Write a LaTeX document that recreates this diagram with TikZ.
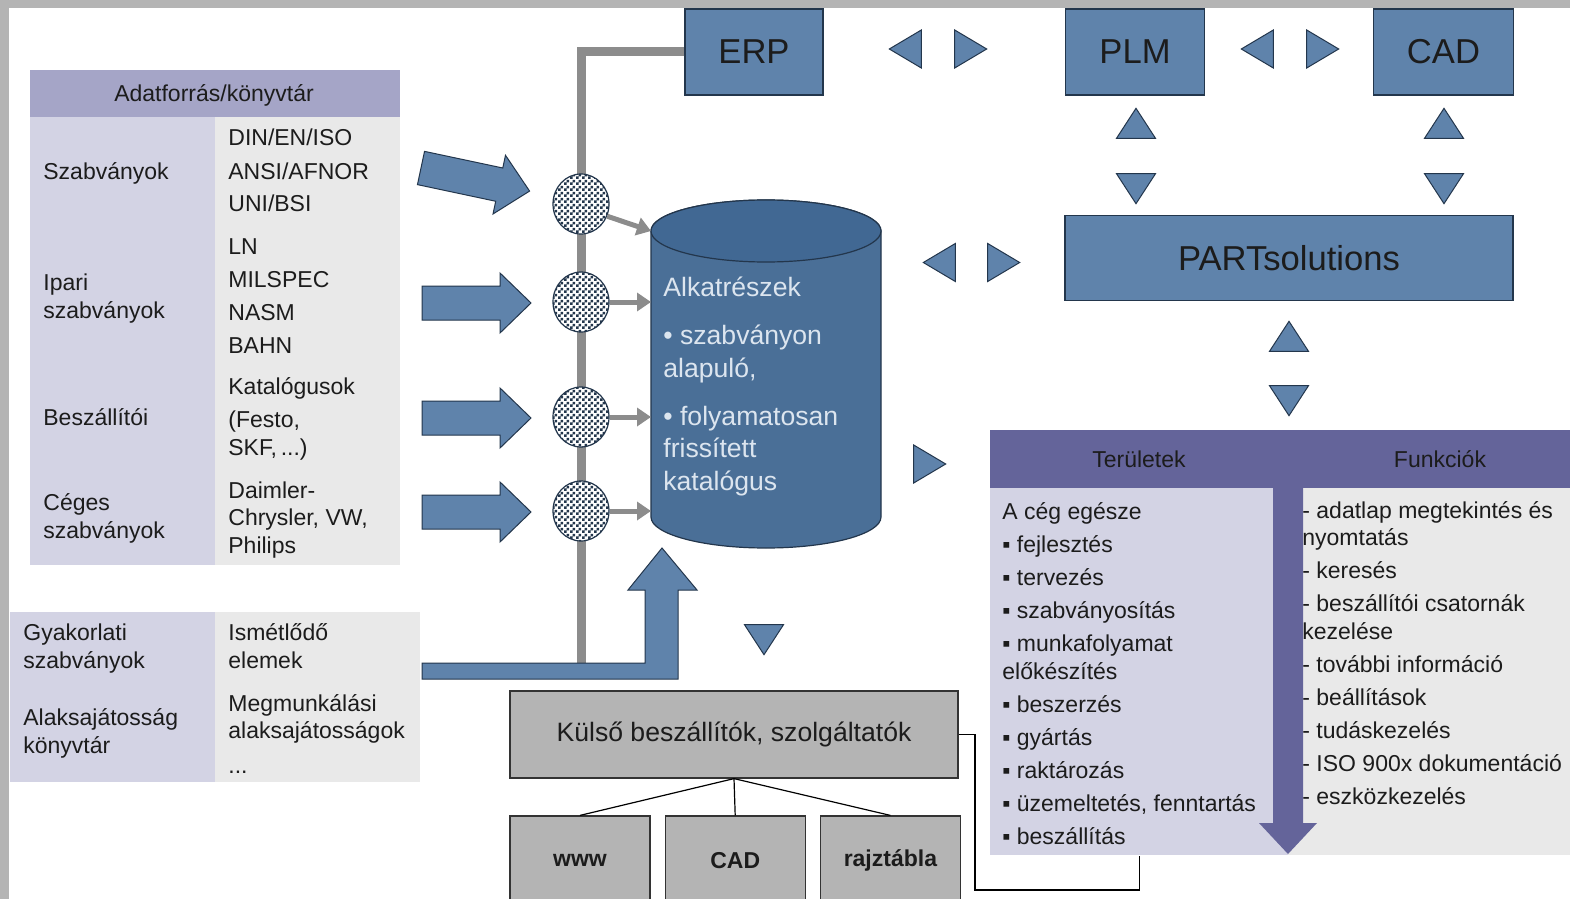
\documentclass[tikz,border=0pt]{standalone}
\usepackage{fontspec}
\setmainfont{Liberation Sans}
\usetikzlibrary{shapes.geometric,arrows.meta,patterns,positioning}

\definecolor{frame}{HTML}{B4B4B4}
\definecolor{boxblue}{HTML}{5F83AB}
\definecolor{dbblue}{HTML}{4A6F97}
\definecolor{dbtop}{HTML}{416893}
\definecolor{rim}{HTML}{23364C}
\definecolor{pipegray}{HTML}{8C8C8C}
\definecolor{lav}{HTML}{D3D3E4}
\definecolor{lavhead}{HTML}{A5A5C7}
\definecolor{cellgray}{HTML}{E9E9E9}
\definecolor{panelhead}{HTML}{64649A}
\definecolor{boxgray}{HTML}{B4B4B4}
\definecolor{dbink}{HTML}{DCE5EF}
\definecolor{ink}{HTML}{1C1C1C}

\pgfdeclarepatternformonly{finecheck}{\pgfpointorigin}{\pgfqpoint{3pt}{3pt}}{\pgfqpoint{3pt}{3pt}}{%
  \pgfpathrectangle{\pgfpointorigin}{\pgfqpoint{1.5pt}{1.5pt}}%
  \pgfpathrectangle{\pgfqpoint{1.5pt}{1.5pt}}{\pgfqpoint{1.5pt}{1.5pt}}%
  \pgfusepath{fill}}

\tikzset{
  sys/.style={draw=rim, fill=boxblue, line width=0.6pt, inner sep=0pt,
    text=ink, font=\fontsize{17.3}{20}\selectfont},
  tri/.style={isosceles triangle, isosceles triangle stretches, draw=rim,
    fill=boxblue, line width=0.5pt, inner sep=0pt, anchor=apex,
    minimum width=19pt, minimum height=16pt},
  trv/.style={tri, minimum width=19.5pt, minimum height=15pt},
  hub/.style={ellipse, draw=rim, line width=0.6pt, inner sep=0pt,
    minimum width=28pt, minimum height=30pt, preaction={fill=white},
    pattern=finecheck, pattern color=rim},
  dbbody/.style={draw=rim, fill=dbblue, line width=0.6pt},
  dbcap/.style={draw=rim, fill=dbtop, line width=0.6pt},
  bigarrow/.style={draw=rim, fill=boxblue, line width=0.5pt},
  pipe/.style={draw=pipegray, line width=4.5pt},
  feed/.style={draw=pipegray, line width=2.5pt,
    -{Triangle[length=7pt, width=9pt]}},
  gbox/.style={draw=black!80, fill=boxgray, line width=0.6pt, inner sep=0pt,
    text=ink},
  link/.style={draw=black, line width=0.6pt},
  cell/.style={anchor=base west, inner sep=0pt, align=left, text=ink,
    font=\fontsize{11.5}{13.75}\selectfont},
  dbtext/.style={cell, text=dbink, font=\fontsize{13.3}{16.25}\selectfont}
}

\begin{document}
\begin{tikzpicture}[x=0.5pt, y=-0.5pt]
\useasboundingbox (0,0) rectangle (1570,899);
\fill[white] (0,0) rectangle (1570,899);
\fill[frame] (0,0) rectangle (1570,8);
\fill[frame] (0,0) rectangle (9,899);

% data sources (multi-line cells sit on their last baseline)
\fill[lavhead] (30,70) rectangle (400,117);
\fill[lav] (30,117) rectangle (215,565);
\fill[cellgray] (215,117) rectangle (400,565);
\node[cell, anchor=center] (srchead) at (214,95) {Adatforrás/könyvtár};
\node[cell] (szab) at (43,179) {Szabványok};
\node[cell] (szabR) at (228,212) {DIN/EN/ISO\\[2.75pt]ANSI/AFNOR\\[2.75pt]UNI/BSI};
\node[cell] (ipari) at (43,318) {Ipari\\szabványok};
\node[cell] (ipariR) at (228,353) {LN\\[2.75pt]MILSPEC\\[2.75pt]NASM\\[2.75pt]BAHN};
\node[cell] (besz) at (43,425) {Beszállítói};
\node[cell] (beszR) at (228,455) {Katalógusok\\[2.75pt](Festo,\\SKF,\,...)};
\node[cell] (ceg) at (43,538) {Céges\\szabványok};
\node[cell] (cegR) at (228,553) {Daimler-\\Chrysler, VW,\\Philips};

\fill[lav] (10,612) rectangle (215,782);
\fill[cellgray] (215,612) rectangle (420,782);
\node[cell] (gyak) at (23,668) {Gyakorlati\\szabványok};
\node[cell] (alak) at (23,753) {Alaksajátosság\\könyvtár};
\node[cell] (gyakR) at (228,668) {Ismétlődő\\elemek};
\node[cell] (alakR) at (228,773) {Megmunkálási\\alaksajátosságok\\[3.5pt]...};

% systems
\node[sys, minimum width=69pt, minimum height=43pt] (erp) at (754,52) {ERP};
\node[sys, minimum width=69.5pt, minimum height=43pt] (plm) at (1135,52) {PLM};
\node[sys, minimum width=70pt, minimum height=43pt] (cad) at (1443.5,52) {CAD};
\node[sys, minimum width=224pt, minimum height=42.5pt] (parts) at (1289,258) {PARTsolutions};

% feed line and arrows
\draw[pipe] (erp.west) -| (581,663);
\draw[bigarrow] (422,663) -- (645,663) -- (645,590) -- (628,590) -- (662,548)
  -- (697,590) -- (678,590) -- (678,679) -- (422,679) -- cycle;
\begin{scope}[shift={(421,168)}, rotate=-12]
  \draw[bigarrow] (0,-17) -- (80,-17) -- (80,-30) -- (111,0) -- (80,30) -- (80,17) -- (0,17) -- cycle;
\end{scope}
\foreach \y in {303,418,512}
  \draw[bigarrow, shift={(422,\y)}] (0,-17) -- (78,-17) -- (78,-30) -- (109,0)
    -- (78,30) -- (78,17) -- (0,17) -- cycle;

\node[hub] (c1) at (581,204) {};
\node[hub] (c2) at (581,302) {};
\node[hub] (c3) at (581,417) {};
\node[hub] (c4) at (581,511) {};

% catalogue
\draw[dbbody] (651,231) -- (651,517) arc[start angle=180, end angle=0, x radius=115, y radius=31]
  -- (881,231) arc[start angle=0, end angle=-180, x radius=115, y radius=31] -- cycle;
\draw[dbcap] (766,231) ellipse [x radius=115, y radius=31];
\coordinate (dbleft) at (651,373);
\node[dbtext] (dbtxt) at (663,490) {Alkatrészek\\[7.75pt]• szabványon\\alapuló,\\[7.75pt]• folyamatosan\\frissített\\katalógus};
\draw[feed] (c1.-25) -- (dbleft |- 0,231);
\foreach \i in {2,3,4}
  \draw[feed] (c\i.east) -- (c\i.east -| dbleft);

% exchange triangles (placed by their apex)
\node[tri, rotate=180] (erpL) at (888,49) {};
\node[tri] (erpR) at (988,49) {};
\node[tri, rotate=180] (plmL) at (1240,49) {};
\node[tri] (plmR) at (1340,49) {};
\node[trv, rotate=90] (plmU) at (1136,107) {};
\node[trv, rotate=-90] (plmD) at (1136,205) {};
\node[trv, rotate=90] (cadU) at (1444,107) {};
\node[trv, rotate=-90] (cadD) at (1444,205) {};
\node[tri, rotate=180] (psL) at (922,262.5) {};
\node[tri] (psR) at (1021,262.5) {};
\node[trv, rotate=90] (psU) at (1289,320) {};
\node[trv, rotate=-90] (psD) at (1289,417) {};
\node[tri] (panR) at (947,464) {};
\node[trv, rotate=-90] (kulD) at (764,656) {};

% suppliers
\node[gbox, minimum width=224pt, minimum height=43.5pt,
  font=\fontsize{13.3}{16}\selectfont] (kulso) at (734,734.5) {Külső beszállítók, szolgáltatók};
\node[gbox, minimum width=70pt, minimum height=44.5pt,
  font=\bfseries\fontsize{11.5}{14}\selectfont] (www) at (580,860.5) {www};
\node[gbox, minimum width=70pt, minimum height=44.5pt,
  font=\bfseries\fontsize{11.5}{14}\selectfont, right=7pt of www] (cadx) {CAD};
\node[gbox, minimum width=70pt, minimum height=44.5pt,
  font=\bfseries\fontsize{11.5}{14}\selectfont, right=7pt of cadx] (rajz) {rajztábla};
\path[link] (kulso.south) edge (www.north) edge (cadx.north) edge (rajz.north);

% areas and functions
\fill[panelhead] (990,430) rectangle (1570,488);
\node[fill=lav, inner sep=0pt, anchor=north west, minimum width=149pt,
  minimum height=183.5pt] (terbody) at (990,488) {};
\node[fill=cellgray, inner sep=0pt, anchor=north west, minimum width=141pt,
  minimum height=183.5pt] (funbody) at (1288,488) {};
\fill[panelhead] (1273,487) -- (1303,487) -- (1303,823) -- (1317,823)
  -- (1288,854) -- (1259,823) -- (1273,823) -- cycle;
\node[cell, anchor=center] (terhead) at (1139,459) {Területek};
\node[cell, anchor=center] (funhead) at (1440,459) {Funkciók};
\node[cell] (terlist) at (1002,844) {A cég egésze\\[2.75pt]▪ fejlesztés\\[2.75pt]▪ tervezés\\[2.75pt]▪ szabványosítás\\[2.75pt]▪ munkafolyamat\\előkészítés\\[2.75pt]▪ beszerzés\\[2.75pt]▪ gyártás\\[2.75pt]▪ raktározás\\[2.75pt]▪ üzemeltetés, fenntartás\\[2.75pt]▪ beszállítás};
\node[cell] (funlist) at (1302,804) {- adatlap megtekintés és\\nyomtatás\\[2.75pt]- keresés\\[2.75pt]- beszállítói csatornák\\kezelése\\[2.75pt]- további információ\\[2.75pt]- beállítások\\[2.75pt]- tudáskezelés\\[2.75pt]- ISO 900x dokumentáció\\[2.75pt]- eszközkezelés};
\draw[link] (kulso.east) -| (975,890) -| (terbody.south);
\end{tikzpicture}
\end{document}
